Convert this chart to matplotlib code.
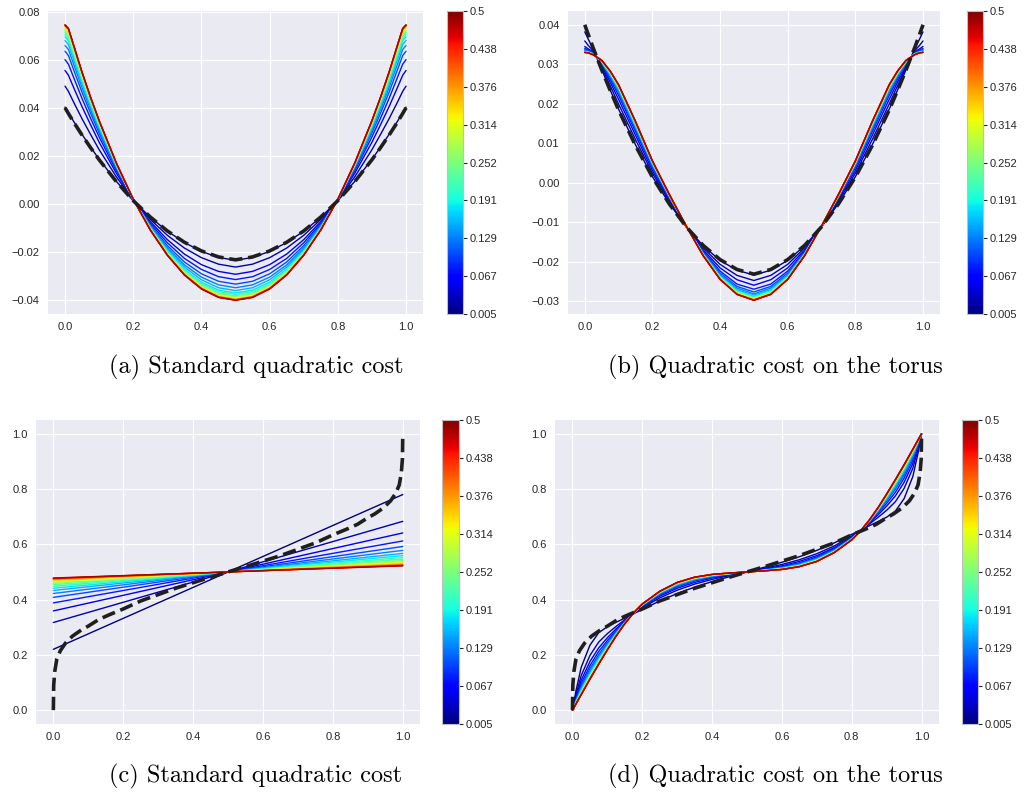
import matplotlib
matplotlib.use('Agg')
import matplotlib.pyplot as plt
import matplotlib.colors as mcolors
import matplotlib.cm as cm

plt.style.use('seaborn-v0_8-darkgrid')
plt.rcParams['font.family'] = ['Liberation Sans', 'DejaVu Sans']
plt.rcParams['font.size'] = 8

# time of each coloured curve (colour scale of the colorbars)
times = [0.005, 0.030, 0.055, 0.080, 0.105, 0.130, 0.155, 0.180, 0.205, 0.230,
         0.255, 0.280, 0.305, 0.330, 0.355, 0.380, 0.405, 0.430, 0.455, 0.480]
cbar_range = [0.005, 0.5]
cbar_ticks = [0.005, 0.066875, 0.12875, 0.190625, 0.2525, 0.314375, 0.37625, 0.438125, 0.5]
cbar_labels = ['0.005', '0.067', '0.129', '0.191', '0.252', '0.314', '0.376', '0.438', '0.5']

captions = ['(a) Standard quadratic cost', '(b) Quadratic cost on the torus',
            '(c) Standard quadratic cost', '(d) Quadratic cost on the torus']

# ---- panels (a) and (b) ----
x_ab = [0.0, 0.01, 0.025, 0.05, 0.075, 0.1, 0.15, 0.2, 0.25, 0.3, 0.35, 0.4, 0.45, 0.5,
        0.55, 0.6, 0.65, 0.7, 0.75, 0.8, 0.85, 0.9, 0.925, 0.95, 0.975, 0.99, 1.0]
dash_ab = [0.0400, 0.0376, 0.0341, 0.0286, 0.0234, 0.0184, 0.0094, 0.0014, -0.0054, -0.0112, -0.0159, -0.0195, -0.0220, -0.0232,
           -0.0220, -0.0195, -0.0159, -0.0112, -0.0054, 0.0014, 0.0094, 0.0184, 0.0234, 0.0286, 0.0341, 0.0376, 0.0400]

curves_a = [
    [0.0403, 0.0380, 0.0344, 0.0289, 0.0236, 0.0186, 0.0095, 0.0014, -0.0055, -0.0113, -0.0160, -0.0197, -0.0222, -0.0234, -0.0222, -0.0197, -0.0160, -0.0113, -0.0055, 0.0014, 0.0095, 0.0186, 0.0236, 0.0289, 0.0344, 0.0380, 0.0403],
    [0.0490, 0.0468, 0.0424, 0.0354, 0.0289, 0.0226, 0.0114, 0.0016, -0.0064, -0.0130, -0.0183, -0.0223, -0.0250, -0.0262, -0.0250, -0.0223, -0.0183, -0.0130, -0.0064, 0.0016, 0.0114, 0.0226, 0.0289, 0.0354, 0.0424, 0.0468, 0.0490],
    [0.0555, 0.0535, 0.0485, 0.0404, 0.0329, 0.0257, 0.0129, 0.0017, -0.0073, -0.0148, -0.0208, -0.0252, -0.0280, -0.0292, -0.0280, -0.0252, -0.0208, -0.0148, -0.0073, 0.0017, 0.0129, 0.0257, 0.0329, 0.0404, 0.0485, 0.0535, 0.0555],
    [0.0600, 0.0581, 0.0527, 0.0438, 0.0356, 0.0279, 0.0139, 0.0017, -0.0080, -0.0161, -0.0226, -0.0272, -0.0302, -0.0314, -0.0302, -0.0272, -0.0226, -0.0161, -0.0080, 0.0017, 0.0139, 0.0279, 0.0356, 0.0438, 0.0527, 0.0581, 0.0600],
    [0.0635, 0.0617, 0.0559, 0.0464, 0.0377, 0.0295, 0.0147, 0.0018, -0.0086, -0.0173, -0.0241, -0.0290, -0.0321, -0.0333, -0.0321, -0.0290, -0.0241, -0.0173, -0.0086, 0.0018, 0.0147, 0.0295, 0.0377, 0.0464, 0.0559, 0.0617, 0.0635],
    [0.0659, 0.0642, 0.0582, 0.0483, 0.0392, 0.0306, 0.0153, 0.0019, -0.0091, -0.0182, -0.0253, -0.0304, -0.0336, -0.0348, -0.0336, -0.0304, -0.0253, -0.0182, -0.0091, 0.0019, 0.0153, 0.0306, 0.0392, 0.0483, 0.0582, 0.0642, 0.0659],
    [0.0679, 0.0663, 0.0601, 0.0498, 0.0404, 0.0316, 0.0157, 0.0019, -0.0095, -0.0189, -0.0262, -0.0315, -0.0348, -0.0360, -0.0348, -0.0315, -0.0262, -0.0189, -0.0095, 0.0019, 0.0157, 0.0316, 0.0404, 0.0498, 0.0601, 0.0663, 0.0679],
    [0.0695, 0.0679, 0.0615, 0.0510, 0.0414, 0.0323, 0.0161, 0.0019, -0.0098, -0.0195, -0.0271, -0.0325, -0.0358, -0.0370, -0.0358, -0.0325, -0.0271, -0.0195, -0.0098, 0.0019, 0.0161, 0.0323, 0.0414, 0.0510, 0.0615, 0.0679, 0.0695],
    [0.0705, 0.0689, 0.0625, 0.0518, 0.0420, 0.0328, 0.0163, 0.0019, -0.0100, -0.0199, -0.0276, -0.0331, -0.0364, -0.0376, -0.0364, -0.0331, -0.0276, -0.0199, -0.0100, 0.0019, 0.0163, 0.0328, 0.0420, 0.0518, 0.0625, 0.0689, 0.0705],
    [0.0714, 0.0698, 0.0633, 0.0524, 0.0425, 0.0332, 0.0165, 0.0019, -0.0102, -0.0202, -0.0280, -0.0336, -0.0370, -0.0382, -0.0370, -0.0336, -0.0280, -0.0202, -0.0102, 0.0019, 0.0165, 0.0332, 0.0425, 0.0524, 0.0633, 0.0698, 0.0714],
    [0.0721, 0.0705, 0.0640, 0.0530, 0.0429, 0.0336, 0.0167, 0.0020, -0.0103, -0.0204, -0.0283, -0.0340, -0.0374, -0.0386, -0.0374, -0.0340, -0.0283, -0.0204, -0.0103, 0.0020, 0.0167, 0.0336, 0.0429, 0.0530, 0.0640, 0.0705, 0.0721],
    [0.0728, 0.0712, 0.0646, 0.0535, 0.0434, 0.0339, 0.0168, 0.0020, -0.0104, -0.0206, -0.0286, -0.0343, -0.0377, -0.0389, -0.0377, -0.0343, -0.0286, -0.0206, -0.0104, 0.0020, 0.0168, 0.0339, 0.0434, 0.0535, 0.0646, 0.0712, 0.0728],
    [0.0733, 0.0718, 0.0651, 0.0539, 0.0437, 0.0341, 0.0169, 0.0020, -0.0105, -0.0208, -0.0288, -0.0345, -0.0380, -0.0392, -0.0380, -0.0345, -0.0288, -0.0208, -0.0105, 0.0020, 0.0169, 0.0341, 0.0437, 0.0539, 0.0651, 0.0718, 0.0733],
    [0.0736, 0.0721, 0.0654, 0.0541, 0.0439, 0.0343, 0.0170, 0.0020, -0.0106, -0.0209, -0.0290, -0.0347, -0.0382, -0.0394, -0.0382, -0.0347, -0.0290, -0.0209, -0.0106, 0.0020, 0.0170, 0.0343, 0.0439, 0.0541, 0.0654, 0.0721, 0.0736],
    [0.0739, 0.0724, 0.0657, 0.0544, 0.0440, 0.0344, 0.0171, 0.0020, -0.0107, -0.0210, -0.0291, -0.0349, -0.0384, -0.0396, -0.0384, -0.0349, -0.0291, -0.0210, -0.0107, 0.0020, 0.0171, 0.0344, 0.0440, 0.0544, 0.0657, 0.0724, 0.0739],
    [0.0741, 0.0726, 0.0658, 0.0545, 0.0441, 0.0345, 0.0171, 0.0020, -0.0107, -0.0211, -0.0293, -0.0350, -0.0385, -0.0397, -0.0385, -0.0350, -0.0293, -0.0211, -0.0107, 0.0020, 0.0171, 0.0345, 0.0441, 0.0545, 0.0658, 0.0726, 0.0741],
    [0.0742, 0.0727, 0.0659, 0.0546, 0.0442, 0.0346, 0.0171, 0.0020, -0.0107, -0.0212, -0.0293, -0.0351, -0.0386, -0.0398, -0.0386, -0.0351, -0.0293, -0.0212, -0.0107, 0.0020, 0.0171, 0.0346, 0.0442, 0.0546, 0.0659, 0.0727, 0.0742],
    [0.0743, 0.0728, 0.0660, 0.0546, 0.0443, 0.0346, 0.0172, 0.0020, -0.0108, -0.0212, -0.0294, -0.0352, -0.0387, -0.0399, -0.0387, -0.0352, -0.0294, -0.0212, -0.0108, 0.0020, 0.0172, 0.0346, 0.0443, 0.0546, 0.0660, 0.0728, 0.0743],
    [0.0744, 0.0729, 0.0661, 0.0547, 0.0443, 0.0347, 0.0172, 0.0020, -0.0108, -0.0213, -0.0295, -0.0353, -0.0388, -0.0400, -0.0388, -0.0353, -0.0295, -0.0213, -0.0108, 0.0020, 0.0172, 0.0347, 0.0443, 0.0547, 0.0661, 0.0729, 0.0744],
    [0.0745, 0.0730, 0.0662, 0.0548, 0.0444, 0.0347, 0.0172, 0.0020, -0.0108, -0.0213, -0.0295, -0.0353, -0.0388, -0.0400, -0.0388, -0.0353, -0.0295, -0.0213, -0.0108, 0.0020, 0.0172, 0.0347, 0.0444, 0.0548, 0.0662, 0.0730, 0.0745],
]

curves_b = [
    [0.0382, 0.0364, 0.0339, 0.0287, 0.0235, 0.0186, 0.0096, 0.0015, -0.0053, -0.0112, -0.0160, -0.0197, -0.0222, -0.0234, -0.0222, -0.0197, -0.0160, -0.0112, -0.0053, 0.0015, 0.0096, 0.0186, 0.0235, 0.0287, 0.0339, 0.0364, 0.0382],
    [0.0359, 0.0348, 0.0334, 0.0292, 0.0246, 0.0199, 0.0109, 0.0024, -0.0048, -0.0112, -0.0165, -0.0207, -0.0235, -0.0248, -0.0235, -0.0207, -0.0165, -0.0112, -0.0048, 0.0024, 0.0109, 0.0199, 0.0246, 0.0292, 0.0334, 0.0348, 0.0359],
    [0.0345, 0.0339, 0.0331, 0.0296, 0.0255, 0.0211, 0.0120, 0.0031, -0.0044, -0.0111, -0.0170, -0.0216, -0.0246, -0.0260, -0.0246, -0.0216, -0.0170, -0.0111, -0.0044, 0.0031, 0.0120, 0.0211, 0.0255, 0.0296, 0.0331, 0.0339, 0.0345],
    [0.0340, 0.0336, 0.0329, 0.0300, 0.0262, 0.0221, 0.0129, 0.0038, -0.0040, -0.0111, -0.0174, -0.0224, -0.0257, -0.0270, -0.0257, -0.0224, -0.0174, -0.0111, -0.0040, 0.0038, 0.0129, 0.0221, 0.0262, 0.0300, 0.0329, 0.0336, 0.0340],
    [0.0337, 0.0334, 0.0328, 0.0302, 0.0267, 0.0228, 0.0135, 0.0042, -0.0038, -0.0111, -0.0177, -0.0229, -0.0263, -0.0277, -0.0263, -0.0229, -0.0177, -0.0111, -0.0038, 0.0042, 0.0135, 0.0228, 0.0267, 0.0302, 0.0328, 0.0334, 0.0337],
    [0.0335, 0.0332, 0.0327, 0.0304, 0.0271, 0.0232, 0.0140, 0.0045, -0.0036, -0.0111, -0.0179, -0.0233, -0.0267, -0.0282, -0.0267, -0.0233, -0.0179, -0.0111, -0.0036, 0.0045, 0.0140, 0.0232, 0.0271, 0.0304, 0.0327, 0.0332, 0.0335],
    [0.0333, 0.0331, 0.0326, 0.0305, 0.0274, 0.0236, 0.0143, 0.0047, -0.0035, -0.0110, -0.0180, -0.0236, -0.0271, -0.0285, -0.0271, -0.0236, -0.0180, -0.0110, -0.0035, 0.0047, 0.0143, 0.0236, 0.0274, 0.0305, 0.0326, 0.0331, 0.0333],
    [0.0332, 0.0331, 0.0326, 0.0307, 0.0276, 0.0239, 0.0146, 0.0049, -0.0033, -0.0110, -0.0181, -0.0238, -0.0274, -0.0288, -0.0274, -0.0238, -0.0181, -0.0110, -0.0033, 0.0049, 0.0146, 0.0239, 0.0276, 0.0307, 0.0326, 0.0331, 0.0332],
    [0.0332, 0.0330, 0.0325, 0.0307, 0.0277, 0.0241, 0.0148, 0.0050, -0.0033, -0.0110, -0.0182, -0.0239, -0.0276, -0.0290, -0.0276, -0.0239, -0.0182, -0.0110, -0.0033, 0.0050, 0.0148, 0.0241, 0.0277, 0.0307, 0.0325, 0.0330, 0.0332],
    [0.0331, 0.0330, 0.0325, 0.0308, 0.0279, 0.0242, 0.0150, 0.0051, -0.0032, -0.0110, -0.0183, -0.0241, -0.0277, -0.0292, -0.0277, -0.0241, -0.0183, -0.0110, -0.0032, 0.0051, 0.0150, 0.0242, 0.0279, 0.0308, 0.0325, 0.0330, 0.0331],
    [0.0331, 0.0330, 0.0325, 0.0308, 0.0280, 0.0244, 0.0151, 0.0052, -0.0032, -0.0110, -0.0183, -0.0242, -0.0279, -0.0293, -0.0279, -0.0242, -0.0183, -0.0110, -0.0032, 0.0052, 0.0151, 0.0244, 0.0280, 0.0308, 0.0325, 0.0330, 0.0331],
    [0.0331, 0.0330, 0.0325, 0.0309, 0.0280, 0.0245, 0.0152, 0.0053, -0.0031, -0.0110, -0.0184, -0.0242, -0.0280, -0.0294, -0.0280, -0.0242, -0.0184, -0.0110, -0.0031, 0.0053, 0.0152, 0.0245, 0.0280, 0.0309, 0.0325, 0.0330, 0.0331],
    [0.0330, 0.0329, 0.0324, 0.0309, 0.0281, 0.0245, 0.0153, 0.0053, -0.0031, -0.0110, -0.0184, -0.0243, -0.0280, -0.0295, -0.0280, -0.0243, -0.0184, -0.0110, -0.0031, 0.0053, 0.0153, 0.0245, 0.0281, 0.0309, 0.0324, 0.0329, 0.0330],
    [0.0330, 0.0329, 0.0324, 0.0309, 0.0282, 0.0246, 0.0153, 0.0054, -0.0031, -0.0110, -0.0184, -0.0244, -0.0281, -0.0296, -0.0281, -0.0244, -0.0184, -0.0110, -0.0031, 0.0054, 0.0153, 0.0246, 0.0282, 0.0309, 0.0324, 0.0329, 0.0330],
    [0.0330, 0.0329, 0.0324, 0.0309, 0.0282, 0.0247, 0.0154, 0.0054, -0.0031, -0.0110, -0.0184, -0.0244, -0.0282, -0.0297, -0.0282, -0.0244, -0.0184, -0.0110, -0.0031, 0.0054, 0.0154, 0.0247, 0.0282, 0.0309, 0.0324, 0.0329, 0.0330],
    [0.0330, 0.0329, 0.0324, 0.0310, 0.0282, 0.0247, 0.0154, 0.0054, -0.0030, -0.0110, -0.0185, -0.0244, -0.0282, -0.0297, -0.0282, -0.0244, -0.0185, -0.0110, -0.0030, 0.0054, 0.0154, 0.0247, 0.0282, 0.0310, 0.0324, 0.0329, 0.0330],
    [0.0330, 0.0329, 0.0324, 0.0310, 0.0283, 0.0247, 0.0154, 0.0055, -0.0030, -0.0110, -0.0185, -0.0245, -0.0283, -0.0297, -0.0283, -0.0245, -0.0185, -0.0110, -0.0030, 0.0055, 0.0154, 0.0247, 0.0283, 0.0310, 0.0324, 0.0329, 0.0330],
    [0.0330, 0.0329, 0.0324, 0.0310, 0.0283, 0.0248, 0.0155, 0.0055, -0.0030, -0.0110, -0.0185, -0.0245, -0.0283, -0.0298, -0.0283, -0.0245, -0.0185, -0.0110, -0.0030, 0.0055, 0.0155, 0.0248, 0.0283, 0.0310, 0.0324, 0.0329, 0.0330],
    [0.0330, 0.0329, 0.0324, 0.0310, 0.0283, 0.0248, 0.0155, 0.0055, -0.0030, -0.0110, -0.0185, -0.0245, -0.0283, -0.0298, -0.0283, -0.0245, -0.0185, -0.0110, -0.0030, 0.0055, 0.0155, 0.0248, 0.0283, 0.0310, 0.0324, 0.0329, 0.0330],
    [0.0330, 0.0329, 0.0324, 0.0310, 0.0283, 0.0248, 0.0155, 0.0055, -0.0030, -0.0110, -0.0185, -0.0245, -0.0283, -0.0298, -0.0283, -0.0245, -0.0185, -0.0110, -0.0030, 0.0055, 0.0155, 0.0248, 0.0283, 0.0310, 0.0324, 0.0329, 0.0330],
]

# ---- panel (c): straight lines, value at x=0 and at x=1 ----
x_c = [0.0, 1.0]
c_left = [0.220, 0.317, 0.359, 0.388, 0.408, 0.422, 0.433, 0.441, 0.448, 0.454,
          0.459, 0.463, 0.466, 0.469, 0.471, 0.473, 0.475, 0.476, 0.477, 0.478]
c_right = [0.780, 0.683, 0.641, 0.612, 0.592, 0.578, 0.567, 0.559, 0.552, 0.546,
           0.541, 0.537, 0.534, 0.531, 0.529, 0.527, 0.525, 0.524, 0.523, 0.522]

# dashed target map shared by (c) and (d)
x_dash = [0.0, 0.001, 0.004, 0.01, 0.02, 0.035, 0.055, 0.08, 0.1, 0.13, 0.16, 0.2, 0.25, 0.3, 0.35, 0.4, 0.45, 0.5,
          0.55, 0.6, 0.65, 0.7, 0.75, 0.8, 0.84, 0.87, 0.9, 0.92, 0.945, 0.965, 0.98, 0.99, 0.996, 0.999, 1.0]
y_dash = [0.0, 0.09, 0.14, 0.185, 0.215, 0.243, 0.268, 0.29, 0.304, 0.328, 0.345, 0.366, 0.395, 0.418, 0.441, 0.461, 0.481, 0.5,
          0.519, 0.539, 0.559, 0.582, 0.605, 0.634, 0.655, 0.672, 0.696, 0.71, 0.732, 0.757, 0.785, 0.815, 0.86, 0.91, 1.0]

# ---- panel (d) ----
x_d = [0.0, 0.01, 0.025, 0.05, 0.075, 0.1, 0.125, 0.15, 0.175, 0.2, 0.25, 0.3, 0.35, 0.4, 0.45, 0.5,
       0.55, 0.6, 0.65, 0.7, 0.75, 0.8, 0.825, 0.85, 0.875, 0.9, 0.925, 0.95, 0.975, 0.99, 1.0]
curves_d = [
    [0, 0.070, 0.155, 0.235, 0.280, 0.302, 0.318, 0.333, 0.349, 0.364, 0.395, 0.422, 0.445, 0.465, 0.483, 0.5, 0.517, 0.535, 0.555, 0.578, 0.605, 0.636, 0.651, 0.667, 0.682, 0.698, 0.720, 0.765, 0.845, 0.930, 1.0],
    [0, 0.056, 0.125, 0.198, 0.246, 0.277, 0.303, 0.327, 0.350, 0.370, 0.406, 0.434, 0.456, 0.473, 0.487, 0.5, 0.513, 0.527, 0.544, 0.566, 0.594, 0.630, 0.650, 0.673, 0.697, 0.723, 0.754, 0.802, 0.875, 0.944, 1.0],
    [0, 0.047, 0.108, 0.176, 0.225, 0.262, 0.294, 0.323, 0.350, 0.374, 0.412, 0.441, 0.462, 0.478, 0.489, 0.5, 0.511, 0.522, 0.538, 0.559, 0.588, 0.626, 0.650, 0.677, 0.706, 0.738, 0.775, 0.824, 0.892, 0.953, 1.0],
    [0, 0.041, 0.096, 0.161, 0.212, 0.252, 0.288, 0.321, 0.351, 0.376, 0.416, 0.446, 0.467, 0.481, 0.491, 0.5, 0.509, 0.519, 0.533, 0.554, 0.584, 0.624, 0.649, 0.679, 0.712, 0.748, 0.788, 0.839, 0.904, 0.959, 1.0],
    [0, 0.037, 0.087, 0.150, 0.201, 0.244, 0.284, 0.319, 0.351, 0.378, 0.419, 0.450, 0.470, 0.483, 0.492, 0.5, 0.508, 0.517, 0.530, 0.550, 0.581, 0.622, 0.649, 0.681, 0.716, 0.756, 0.799, 0.850, 0.913, 0.963, 1.0],
    [0, 0.034, 0.080, 0.142, 0.193, 0.238, 0.280, 0.318, 0.351, 0.379, 0.422, 0.452, 0.472, 0.485, 0.493, 0.5, 0.507, 0.515, 0.528, 0.548, 0.578, 0.621, 0.649, 0.682, 0.720, 0.762, 0.807, 0.858, 0.920, 0.966, 1.0],
    [0, 0.031, 0.075, 0.135, 0.188, 0.234, 0.278, 0.317, 0.351, 0.380, 0.423, 0.454, 0.474, 0.486, 0.494, 0.5, 0.506, 0.514, 0.526, 0.546, 0.577, 0.620, 0.649, 0.683, 0.722, 0.766, 0.812, 0.865, 0.925, 0.969, 1.0],
    [0, 0.029, 0.071, 0.130, 0.183, 0.231, 0.276, 0.316, 0.352, 0.381, 0.425, 0.456, 0.476, 0.487, 0.494, 0.5, 0.506, 0.513, 0.524, 0.544, 0.575, 0.619, 0.648, 0.684, 0.724, 0.769, 0.817, 0.870, 0.929, 0.971, 1.0],
    [0, 0.028, 0.068, 0.127, 0.180, 0.228, 0.274, 0.315, 0.352, 0.382, 0.426, 0.457, 0.477, 0.488, 0.494, 0.5, 0.506, 0.512, 0.523, 0.543, 0.574, 0.618, 0.648, 0.685, 0.726, 0.772, 0.820, 0.873, 0.932, 0.972, 1.0],
    [0, 0.027, 0.065, 0.124, 0.177, 0.226, 0.273, 0.315, 0.352, 0.382, 0.427, 0.458, 0.478, 0.489, 0.495, 0.5, 0.505, 0.511, 0.522, 0.542, 0.573, 0.618, 0.648, 0.685, 0.727, 0.774, 0.823, 0.876, 0.935, 0.973, 1.0],
    [0, 0.026, 0.063, 0.121, 0.175, 0.224, 0.272, 0.314, 0.352, 0.383, 0.427, 0.459, 0.478, 0.489, 0.495, 0.5, 0.505, 0.511, 0.522, 0.541, 0.573, 0.617, 0.648, 0.686, 0.728, 0.776, 0.825, 0.879, 0.937, 0.974, 1.0],
    [0, 0.025, 0.062, 0.119, 0.173, 0.223, 0.271, 0.314, 0.352, 0.383, 0.428, 0.460, 0.479, 0.489, 0.495, 0.5, 0.505, 0.511, 0.521, 0.540, 0.572, 0.617, 0.648, 0.686, 0.729, 0.777, 0.827, 0.881, 0.938, 0.975, 1.0],
    [0, 0.024, 0.060, 0.118, 0.171, 0.222, 0.270, 0.314, 0.352, 0.383, 0.428, 0.460, 0.479, 0.490, 0.495, 0.5, 0.505, 0.510, 0.521, 0.540, 0.572, 0.617, 0.648, 0.686, 0.730, 0.778, 0.829, 0.882, 0.940, 0.976, 1.0],
    [0, 0.024, 0.059, 0.116, 0.170, 0.221, 0.270, 0.314, 0.352, 0.383, 0.429, 0.461, 0.480, 0.490, 0.496, 0.5, 0.504, 0.510, 0.520, 0.539, 0.571, 0.617, 0.648, 0.686, 0.730, 0.779, 0.830, 0.884, 0.941, 0.976, 1.0],
    [0, 0.023, 0.058, 0.115, 0.169, 0.220, 0.269, 0.313, 0.352, 0.384, 0.429, 0.461, 0.480, 0.490, 0.496, 0.5, 0.504, 0.510, 0.520, 0.539, 0.571, 0.616, 0.648, 0.687, 0.731, 0.780, 0.831, 0.885, 0.942, 0.977, 1.0],
    [0, 0.023, 0.058, 0.114, 0.168, 0.220, 0.269, 0.313, 0.352, 0.384, 0.429, 0.461, 0.480, 0.491, 0.496, 0.5, 0.504, 0.509, 0.520, 0.539, 0.571, 0.616, 0.648, 0.687, 0.731, 0.780, 0.832, 0.886, 0.942, 0.977, 1.0],
    [0, 0.023, 0.057, 0.113, 0.167, 0.219, 0.269, 0.313, 0.352, 0.384, 0.430, 0.462, 0.481, 0.491, 0.496, 0.5, 0.504, 0.509, 0.519, 0.538, 0.570, 0.616, 0.648, 0.687, 0.731, 0.781, 0.833, 0.887, 0.943, 0.977, 1.0],
    [0, 0.022, 0.057, 0.113, 0.167, 0.219, 0.268, 0.313, 0.352, 0.384, 0.430, 0.462, 0.481, 0.491, 0.496, 0.5, 0.504, 0.509, 0.519, 0.538, 0.570, 0.616, 0.648, 0.687, 0.732, 0.781, 0.833, 0.887, 0.943, 0.978, 1.0],
    [0, 0.022, 0.056, 0.112, 0.166, 0.218, 0.268, 0.313, 0.352, 0.384, 0.430, 0.462, 0.481, 0.491, 0.496, 0.5, 0.504, 0.509, 0.519, 0.538, 0.570, 0.616, 0.648, 0.687, 0.732, 0.782, 0.834, 0.888, 0.944, 0.978, 1.0],
    [0, 0.022, 0.056, 0.112, 0.166, 0.218, 0.268, 0.313, 0.352, 0.384, 0.430, 0.462, 0.481, 0.491, 0.496, 0.5, 0.504, 0.509, 0.519, 0.538, 0.570, 0.616, 0.648, 0.687, 0.732, 0.782, 0.834, 0.888, 0.944, 0.978, 1.0],
]

fig = plt.figure(figsize=(10.25, 7.96), dpi=100)
norm = mcolors.Normalize(vmin=cbar_range[0], vmax=cbar_range[1])


def draw_panel(ax_rect, cax_rect, xs_list, ys_list, dx, dy, yticks, caption, cap_xy):
    ax = fig.add_axes(ax_rect)
    for t, xs, ys in zip(times, xs_list, ys_list):
        ax.plot(xs, ys, color=cm.jet(norm(t)), lw=1.0)
    ax.plot(dx, dy, linestyle='--', color='0.12', lw=2.6)
    ax.set_xticks([0.0, 0.2, 0.4, 0.6, 0.8, 1.0])
    ax.set_yticks(yticks)
    ax.tick_params(axis='both', labelsize=8, pad=6, colors='0.15')

    cax = fig.add_axes(cax_rect)
    sm = cm.ScalarMappable(norm=norm, cmap='jet')
    cb = fig.colorbar(sm, cax=cax, ticks=cbar_ticks)
    cb.ax.set_yticklabels(cbar_labels)
    cb.ax.grid(False)
    cb.ax.tick_params(length=3, width=0.8, color='0.15', labelsize=8, pad=2)
    cb.outline.set_edgecolor('0.75')
    cb.outline.set_linewidth(0.8)

    fig.text(cap_xy[0], cap_xy[1], caption, family='cmr10', fontsize=17.5,
             ha='center', va='center', color='black')
    return ax


draw_panel([0.0468, 0.6055, 0.366, 0.3807], [0.436, 0.6055, 0.0156, 0.3807],
           [x_ab] * 20, curves_a, x_ab, dash_ab,
           [-0.04, -0.02, 0.0, 0.02, 0.04, 0.06, 0.08], captions[0], (0.2497, 0.539))
draw_panel([0.554, 0.6055, 0.363, 0.3807], [0.9434, 0.6055, 0.0156, 0.3807],
           [x_ab] * 20, curves_b, x_ab, dash_ab,
           [-0.03, -0.02, -0.01, 0.0, 0.01, 0.02, 0.03, 0.04], captions[1], (0.756, 0.539))
draw_panel([0.035, 0.0905, 0.375, 0.382], [0.4312, 0.0905, 0.0166, 0.382],
           [x_c] * 20, [[l, r] for l, r in zip(c_left, c_right)], x_dash, y_dash,
           [0.0, 0.2, 0.4, 0.6, 0.8, 1.0], captions[2], (0.2497, 0.025))
draw_panel([0.5415, 0.0905, 0.3746, 0.382], [0.9385, 0.0905, 0.0156, 0.382],
           [x_d] * 20, curves_d, x_dash, y_dash,
           [0.0, 0.2, 0.4, 0.6, 0.8, 1.0], captions[3], (0.756, 0.025))

fig.savefig('out.png', dpi=100)
